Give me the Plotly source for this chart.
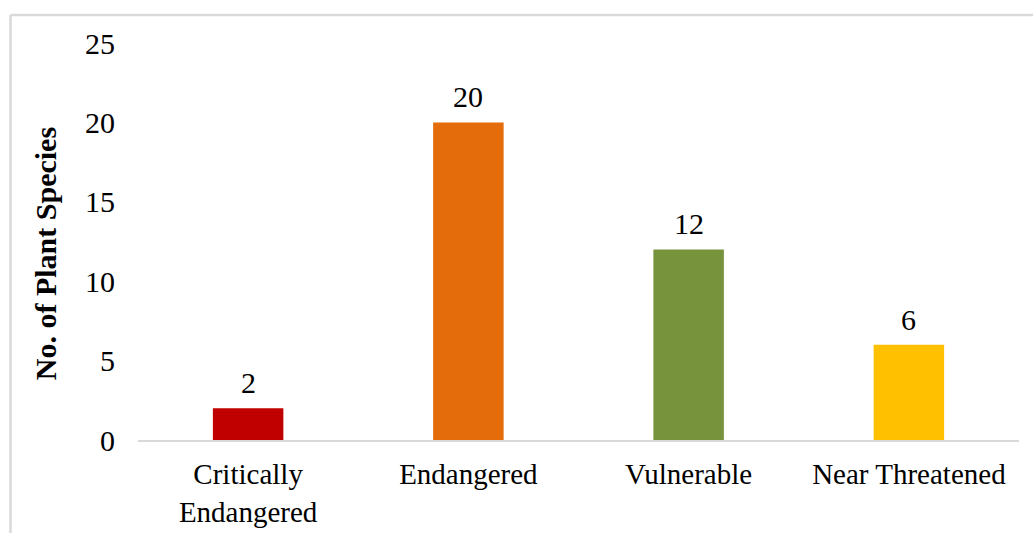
import plotly.graph_objects as go

categories = ["Critically<br>Endangered", "Endangered", "Vulnerable", "Near Threatened"]
values = [2, 20, 12, 6]
colors = ["#C00000", "#E46C0A", "#77933C", "#FFC000"]
y_ticks = [0, 5, 10, 15, 20, 25]
y_title = "<b>No. of Plant Species</b>"

FONT = "Liberation Serif"
W, H = 1033, 533
ML, MR, MT, MB = 138, 14, 42.5, 93
pw = W - ML - MR
ph = H - MT - MB

fig = go.Figure()
fig.add_trace(go.Bar(
    x=categories, y=values, marker=dict(color=colors, line=dict(width=0)),
    width=0.32, showlegend=False, hoverinfo="skip",
))

for c, v in zip(categories, values):
    fig.add_annotation(x=c, y=v, text=str(v), showarrow=False, yanchor="bottom",
                       yshift=7, font=dict(family=FONT, size=30, color="#000000"))

def px_x(p):
    return (p - ML) / pw

def px_y(p):
    return (H - MB - p) / ph

fig.add_annotation(xref="paper", yref="paper", x=px_x(45), y=px_y(254),
                   xanchor="center", yanchor="middle", text=y_title, textangle=-90,
                   showarrow=False, font=dict(family=FONT, size=30, color="#000000"))

border = "#D9D9D9"
fig.add_shape(type="line", xref="paper", yref="paper", x0=px_x(10.5), x1=px_x(10.5),
              y0=px_y(14.5), y1=px_y(540), line=dict(color=border, width=2.5))
fig.add_shape(type="line", xref="paper", yref="paper", x0=px_x(10.5), x1=px_x(1040),
              y0=px_y(14.5), y1=px_y(14.5), line=dict(color=border, width=2.5))

fig.update_layout(
    width=W, height=H, autosize=False,
    margin=dict(l=ML, r=MR, t=MT, b=MB, pad=0, autoexpand=False),
    paper_bgcolor="white", plot_bgcolor="white",
    font=dict(family=FONT, size=30, color="#000000"),
    xaxis=dict(showgrid=False, zeroline=False, showline=True, linecolor="#D9D9D9",
               linewidth=2, ticks="", tickfont=dict(family=FONT, size=29),
               ticklabelstandoff=7, automargin=False),
    yaxis=dict(range=[0, 25], tickvals=y_ticks, showgrid=False, zeroline=False,
               showline=False, ticks="", tickfont=dict(family=FONT, size=30),
               ticklabelstandoff=22, automargin=False),
)

fig.write_html("out.html")
